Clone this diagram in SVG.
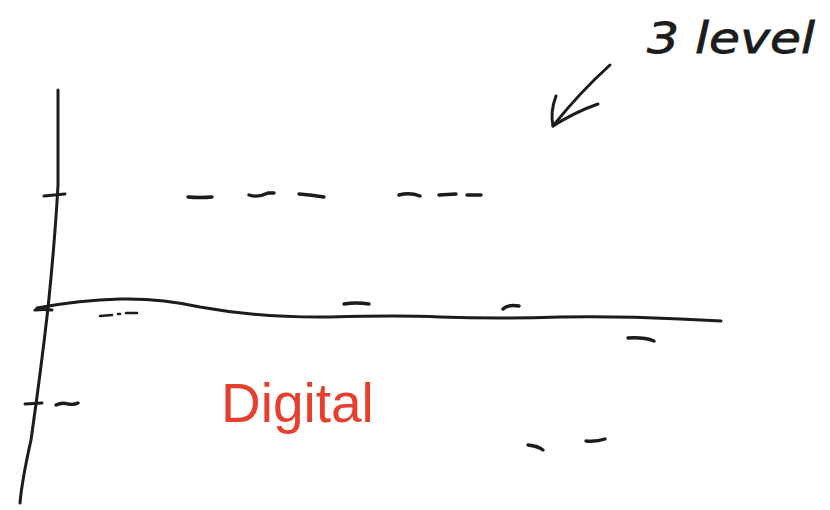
<svg xmlns="http://www.w3.org/2000/svg" width="830" height="510" viewBox="0 0 830 510">
  <style>
    .ink { fill: none; stroke: #1c1c1c; stroke-width: 3; stroke-linecap: round; stroke-linejoin: round; }
    .dash { fill: none; stroke: #1c1c1c; stroke-width: 3.4; stroke-linecap: round; }
    .note { font-family: "DejaVu Sans", "Liberation Sans", sans-serif; font-style: italic; font-weight: 200; fill: #1c1c1c; stroke: #1c1c1c; stroke-width: 0.8; }
    .label { font-family: "Liberation Sans", Arial, sans-serif; fill: #e5402f; }
  </style>
  <rect width="830" height="510" fill="#ffffff"/>

  <!-- hand-drawn axes -->
  <g id="axes">
    <path class="ink" d="M58,90 L58,185 Q55,240 48,308 Q41,370 31,440 Q22,480 20,503"/>
    <path class="ink" d="M37,308 Q80,300 120,299 Q160,298 200,307 Q260,318 330,317 Q400,315 440,317 Q500,319 560,317 Q620,316 680,319 L721,321"/>
    <!-- level ticks -->
    <path class="ink" d="M44,196 L65,194"/>
    <path class="ink" d="M35,310 Q44,309 52,310"/>
    <path class="ink" d="M25,404 L42,403"/>
  </g>

  <!-- sampled level marks -->
  <g id="samples">
    <path class="dash" d="M188,197 Q200,198 212,197"/>
    <path class="dash" d="M249,195 Q258,198 268,193 L274,193"/>
    <path class="dash" d="M299,194 Q312,195 324,197"/>
    <path class="dash" d="M399,195 Q410,192 420,196"/>
    <path class="dash" d="M439,195 L456,194"/>
    <path class="dash" d="M467,195 L481,195"/>

    <path class="dash" style="stroke-width:2.6" d="M100,316 L112,315 M118,314 L120,314 M126,313 L137,313"/>
    <path class="dash" d="M344,304 Q356,302 369,304"/>
    <path class="dash" d="M503,309 Q508,304 519,306"/>
    <path class="dash" d="M628,338 Q644,337 654,341"/>

    <path class="dash" d="M56,405 Q62,402 68,404 Q74,405 78,403"/>
    <path class="dash" d="M528,445 Q538,446 543,450"/>
    <path class="dash" d="M586,441 Q596,442 605,439"/>
  </g>

  <!-- annotation -->
  <g id="note">
    <text class="note" x="647" y="53" font-size="42" textLength="168" lengthAdjust="spacingAndGlyphs">3 level</text>
    <path class="ink" d="M610,65 Q580,92 553,126"/>
    <path class="ink" d="M556,96 Q550,112 553,126 Q575,112 598,104"/>
  </g>

  <g id="caption">
    <text class="label" x="221" y="422" font-size="55">Digital</text>
  </g>
</svg>
